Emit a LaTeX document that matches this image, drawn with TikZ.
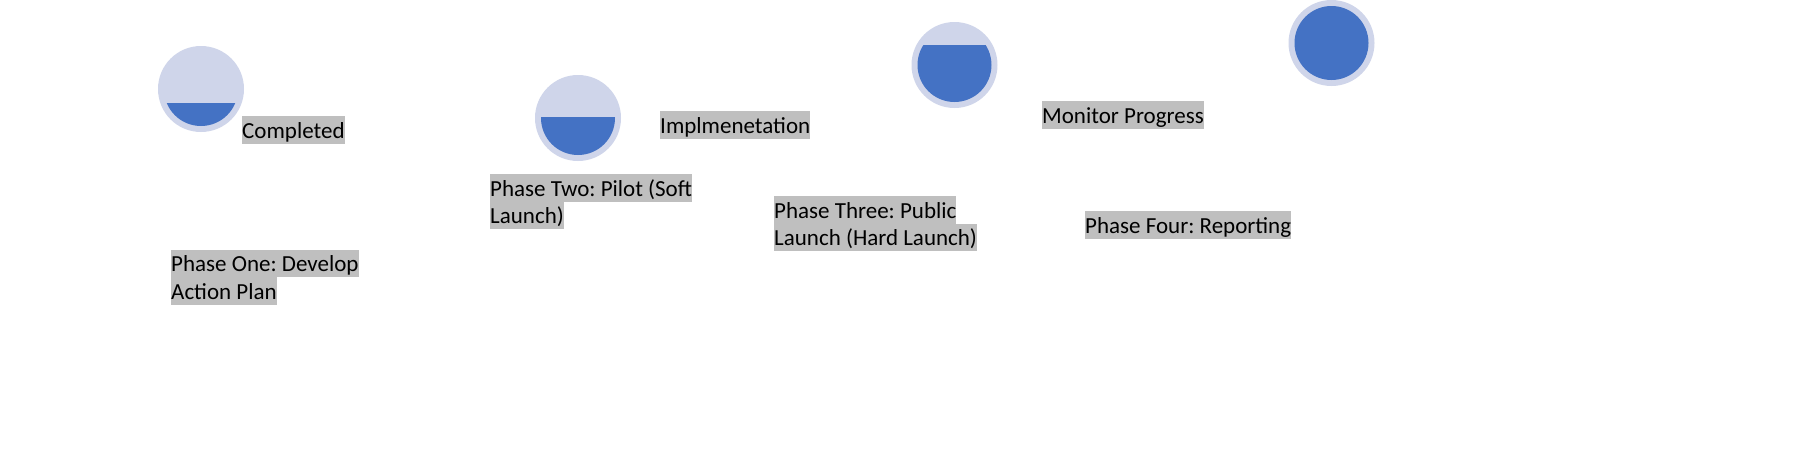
\documentclass[tikz,border=0pt]{standalone}
\usepackage{fontspec}
\setmainfont{Carlito}
\usetikzlibrary{calc}
\definecolor{ringlight}{HTML}{CFD5EA}
\definecolor{gaugeblue}{HTML}{4472C4}
\definecolor{hlgray}{HTML}{BFBFBF}
\frenchspacing
\begin{document}
\begin{tikzpicture}[x=1pt,y=-1pt,
  gauge/.style={circle, minimum size=86pt, inner sep=0pt, fill=ringlight,
    path picture={
      \begin{scope}
        \clip (path picture bounding box.center) circle[radius=37pt];
        \fill[gaugeblue] ($(path picture bounding box.center)+(-50,#1)$) rectangle ($(path picture bounding box.center)+(50,50)$);
      \end{scope}}},
  hl/.style={fill=hlgray, inner sep=0pt, text height=22pt, text depth=5.5pt,
    anchor=north west, font=\fontsize{23}{27.5}\selectfont\frenchspacing}]
\useasboundingbox[fill=white] (0,0) rectangle (1810,453);
% gauges
\node[gauge=14] (g1) at (201,89) {};
\node[gauge=-1] (g2) at (578,118) {};
\node[gauge=-20] (g3) at (954.5,65) {};
\node[gauge=-50] (g4) at (1331.5,43) {};
% labels
\node[hl] (completed) at (242,116) {Completed};
\node[hl] (p1a) at (171,249.5) {Phase One: Develop\ };
\node[hl] (p1b) at (171,277) {Action Plan};
\node[hl] (impl) at (660,111) {Implmenetation};
\node[hl] (p2a) at (490,174) {Phase Two: Pilot (Soft\ };
\node[hl] (p2b) at (490,201) {Launch)};
\node[hl] (p3a) at (774,196) {Phase Three: Public\ };
\node[hl] (p3b) at (774,223.5) {Launch (Hard Launch)};
\node[hl] (monitor) at (1042,101) {Monitor Progress};
\node[hl] (p4) at (1085,211) {Phase Four: Reporting};
\end{tikzpicture}
\end{document}
